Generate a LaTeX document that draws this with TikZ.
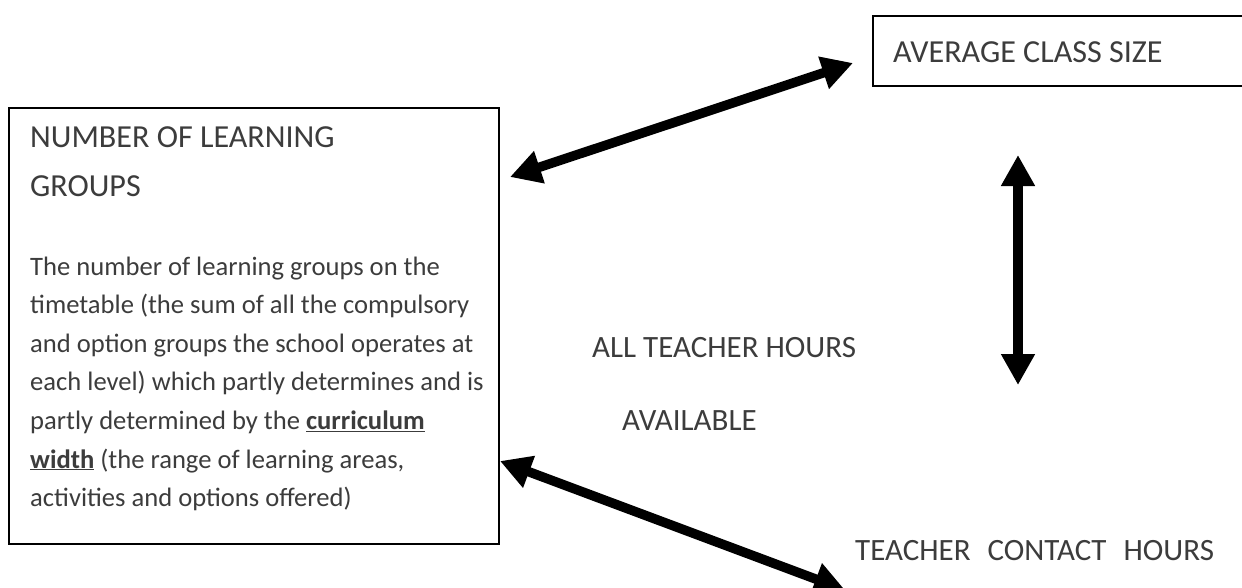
\documentclass[tikz,border=0pt]{standalone}
\usepackage{fontspec}
\setmainfont{Carlito}
\usetikzlibrary{arrows.meta}
\definecolor{txt}{HTML}{3C3C3C}
\tikzset{
  box/.style={draw=black, line width=2pt, inner sep=0pt, anchor=north west},
  dblarrow/.style={line width=9.5pt, {Triangle[length=31pt,width=32pt]}-{Triangle[length=31pt,width=32pt]}},
  lbl/.style={inner sep=0pt, anchor=base west, text=txt, font=\fontsize{31}{49}\selectfont},
  bigl/.style={lbl, font=\fontsize{32.1}{49}\selectfont},
  bodytxt/.style={inner sep=0pt, anchor=base west, text=txt}
}
\begin{document}
\begin{tikzpicture}[x=1pt,y=-1pt]
\useasboundingbox (0,0) rectangle (1242,587);
\clip (0,0) rectangle (1242,587);
% boxes
\node[box, minimum width=490pt, minimum height=436pt] (lg) at (8,107) {};
\node[box, minimum width=390pt, minimum height=70pt] (acs) at (872,15) {};
% texts
\node[bigl] (lghead) at (30,147) {\parbox[t]{460pt}{\fontsize{32.1}{49}\selectfont NUMBER OF LEARNING\\GROUPS}};
\node[bodytxt] (lgbody) at (30,275) {\parbox[t]{465pt}{\fontsize{26.6}{38.6}\selectfont
The number of learning groups on the\\
timetable (the sum of all the compulsory\\
and option groups the school operates at\\
each level) which partly determines and is\\
partly determined by the \underline{\textbf{curriculum}}\\
\underline{\textbf{width}} (the range of learning areas,\\
activities and options offered)}};
\node[bigl] (acstext) at (893,62) {AVERAGE CLASS SIZE};
\node[lbl] (allhours) at (592,357) {ALL TEACHER HOURS};
\node[lbl] (avail) at (622,430) {AVAILABLE};
\node[lbl] (contact) at (855,560) {TEACHER\hspace{17pt}CONTACT\hspace{17pt}HOURS};
% connector ends
\coordinate (a1) at (510,177);
\coordinate (a2) at (853,63);
\coordinate (v1) at (1018,155);
\coordinate (v2) at (1018,385);
\coordinate (b1) at (500,461);
\coordinate (b2) at (845,590);
\draw[dblarrow] (a1) -- (a2);
\draw[dblarrow] (v1) -- (v2);
\draw[dblarrow] (b1) -- (b2);
\end{tikzpicture}
\end{document}
